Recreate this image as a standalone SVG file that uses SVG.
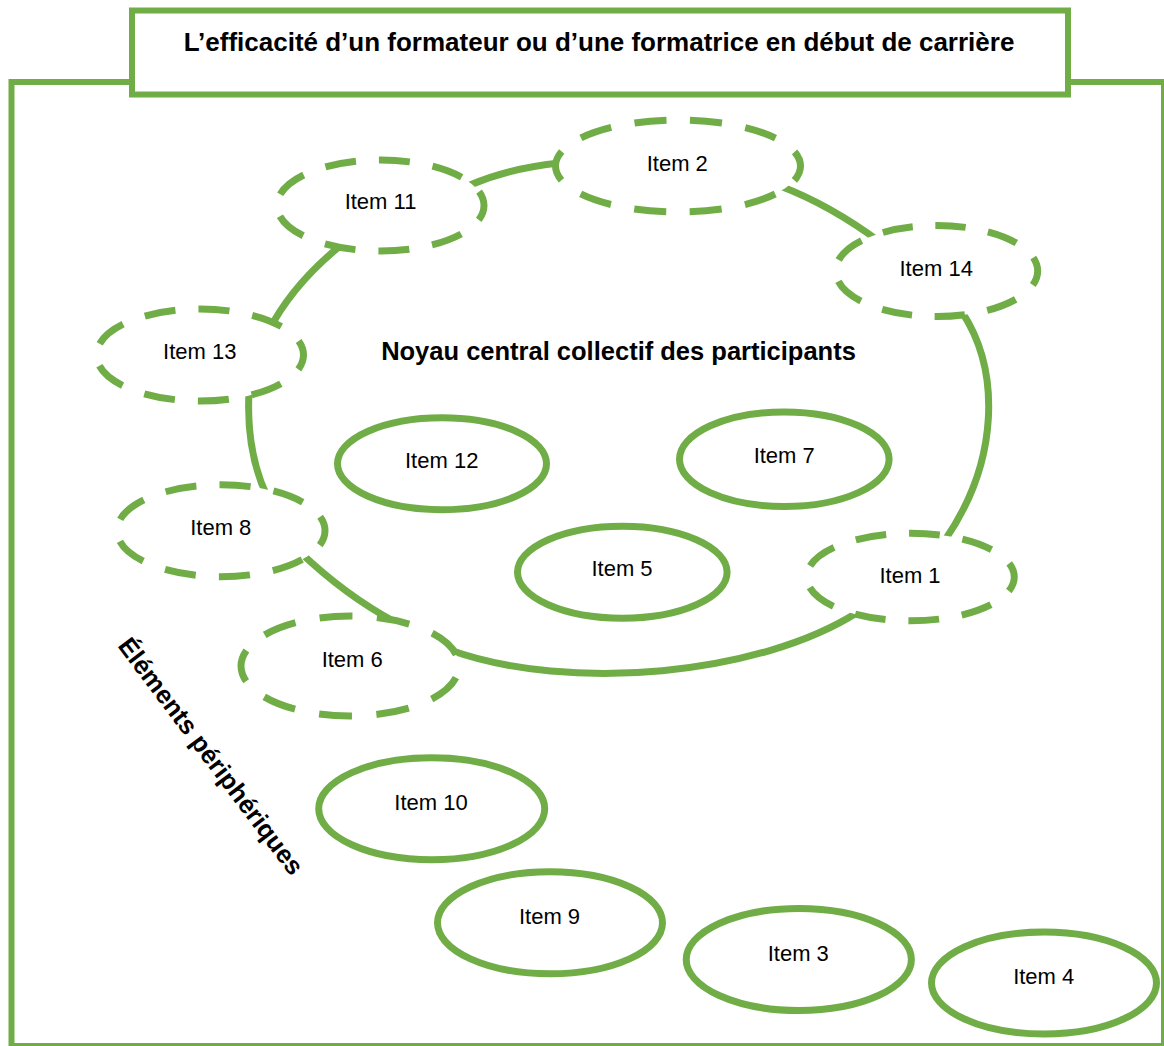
<svg xmlns="http://www.w3.org/2000/svg" width="1164" height="1046" viewBox="0 0 1164 1046">
<style>
.frame{fill:#fff;stroke:#70AD47;stroke-width:6}
.title{fill:#fff;stroke:#70AD47;stroke-width:6}
.conn{fill:none;stroke:#70AD47;stroke-width:7}
.dash{fill:#fff;stroke:#70AD47;stroke-width:7}
.solid{fill:#fff;stroke:#70AD47;stroke-width:7}
.lbl{font-family:"Liberation Sans",Arial,sans-serif;font-size:22px;fill:#000;text-anchor:middle}
.bold{font-family:"Liberation Sans",Arial,sans-serif;font-weight:bold;fill:#000}
</style>
<rect class="frame" x="11.5" y="82" width="1152.5" height="964"/>
<g id="title">
<rect class="title" x="132" y="10.5" width="936" height="84"/>
<text class="bold" x="599" y="51" font-size="26" text-anchor="middle">L’efficacité d’un formateur ou d’une formatrice en début de carrière</text>
</g>
<g id="connectors">
<path class="conn" d="M268,332 Q293,283 345,242"/>
<path class="conn" d="M470,185 Q510,168 560,163"/>
<path class="conn" d="M780,186 Q830,205 880,242"/>
<path class="conn" d="M962,312 C1000,370 1000,460 945,540"/>
<path class="conn" d="M858,612 C760,675 570,693 450,650"/>
<path class="conn" d="M395,622 Q345,595 300,552"/>
<path class="conn" d="M249,392 Q246,450 266,494"/>
</g>
<text id="core-label" class="bold" x="618.5" y="360" font-size="25.5" text-anchor="middle">Noyau central collectif des participants</text>
<g id="item11"><ellipse class="dash" cx="380.5" cy="205.5" rx="103.5" ry="45.5" stroke-dasharray="31 23" stroke-dashoffset="15.5"/><text class="lbl" x="380.5" y="209">Item 11</text></g>
<g id="item2"><ellipse class="dash" cx="678" cy="166" rx="122.5" ry="46" stroke-dasharray="32 23.7" stroke-dashoffset="16"/><text class="lbl" x="677.3" y="171">Item 2</text></g>
<g id="item14"><ellipse class="dash" cx="936.7" cy="271" rx="101" ry="45.5" stroke-dasharray="30.4 22.59" stroke-dashoffset="15.2"/><text class="lbl" x="936.2" y="276">Item 14</text></g>
<g id="item13"><ellipse class="dash" cx="200" cy="355" rx="103.5" ry="46" stroke-dasharray="31.1 23.04" stroke-dashoffset="15.55"/><text class="lbl" x="199.8" y="359">Item 13</text></g>
<g id="item8"><ellipse class="dash" cx="221" cy="530.7" rx="104" ry="46" stroke-dasharray="31.2 23.15" stroke-dashoffset="15.6"/><text class="lbl" x="220.8" y="535">Item 8</text></g>
<g id="item6"><ellipse class="dash" cx="350" cy="666" rx="109" ry="50" stroke-dasharray="33 24.42" stroke-dashoffset="45.2"/><text class="lbl" x="352.2" y="666.7">Item 6</text></g>
<g id="item1"><ellipse class="dash" cx="910.5" cy="577" rx="103.8" ry="43.8" stroke-dasharray="30.8 22.89" stroke-dashoffset="15.4"/><text class="lbl" x="910" y="583.3">Item 1</text></g>
<g id="item12"><ellipse class="solid" cx="442" cy="463.7" rx="104.5" ry="46"/><text class="lbl" x="441.7" y="468.3">Item 12</text></g>
<g id="item7"><ellipse class="solid" cx="784.3" cy="459.2" rx="104.8" ry="47.3"/><text class="lbl" x="784.2" y="462.7">Item 7</text></g>
<g id="item5"><ellipse class="solid" cx="622.3" cy="572.2" rx="104.8" ry="46"/><text class="lbl" x="622" y="576">Item 5</text></g>
<g id="item10"><ellipse class="solid" cx="431.7" cy="808.7" rx="113" ry="51"/><text class="lbl" x="431" y="810">Item 10</text></g>
<g id="item9"><ellipse class="solid" cx="550" cy="922.8" rx="112.5" ry="51"/><text class="lbl" x="549.5" y="924">Item 9</text></g>
<g id="item3"><ellipse class="solid" cx="798.8" cy="959.5" rx="112.6" ry="51"/><text class="lbl" x="798.3" y="961">Item 3</text></g>
<g id="item4"><ellipse class="solid" cx="1044" cy="983" rx="112.5" ry="51"/><text class="lbl" x="1043.7" y="984.3">Item 4</text></g>
<text id="peripheral-label" class="bold" font-size="25.5" transform="translate(117,646) rotate(53)">Éléments périphériques</text>
</svg>
